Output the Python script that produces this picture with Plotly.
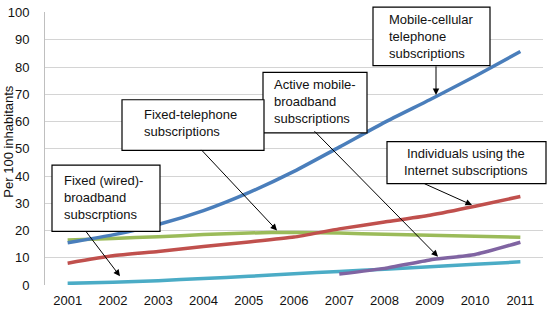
import plotly.graph_objects as go

years = [2001, 2002, 2003, 2004, 2005, 2006, 2007, 2008, 2009, 2010, 2011]
fixed_telephone = [16.5, 17.1, 17.7, 18.5, 19.1, 19.3, 19.1, 18.6, 18.3, 17.9, 17.5]
mobile_cellular = [15.5, 18.4, 22.2, 27.3, 33.9, 41.7, 50.6, 59.7, 68.0, 76.6, 85.7]
internet_users = [8.0, 10.7, 12.3, 14.1, 15.8, 17.6, 20.6, 23.1, 25.6, 28.9, 32.5]
fixed_broadband = [0.6, 1.0, 1.6, 2.4, 3.2, 4.1, 5.0, 5.8, 6.7, 7.6, 8.5]
mb_years = [2007, 2008, 2009, 2010, 2011]
mobile_broadband = [4.0, 6.1, 9.2, 11.2, 15.7]
y_ticks = [0, 10, 20, 30, 40, 50, 60, 70, 80, 90, 100]

W, H = 548, 313
L, R, T, B = 45, 543, 7, 287
FONT = "Liberation Sans, Arial, sans-serif"

def px(x):
    return (x - L) / (R - L)

def py(y):
    return (B - y) / (B - T)

fig = go.Figure()
series = [
    (years, fixed_telephone, "#9BBB59", "Fixed-telephone"),
    (years, mobile_cellular, "#4A7EBB", "Mobile-cellular"),
    (years, internet_users, "#C0504D", "Internet"),
    (years, fixed_broadband, "#4BACC6", "Fixed broadband"),
    (mb_years, mobile_broadband, "#8064A2", "Mobile broadband"),
]
for xs, ys, col, name in series:
    fig.add_trace(go.Scatter(x=xs, y=ys, mode="lines", name=name,
                             line=dict(color=col, width=3.5, shape="spline", smoothing=0.5)))

# boxes (pixel coords) and labels
boxes = [
    ((373, 2, 490, 62), 388, 32, "left", "Mobile-cellular<br>telephone<br>subscriptions"),
    ((263, 69, 367, 131), 273, 99, "left", "Active mobile-<br>broadband<br>subscriptions"),
    ((122, 97, 264, 149), 143, 121, "left", "Fixed-telephone<br>subscriptions"),
    ((387, 140, 546, 183), 466, 161, "center", "Individuals using the<br>Internet subscriptions"),
    ((52, 164, 160, 232), 63, 197, "left", "Fixed (wired)-<br>broadband<br>subscrptions"),
]
shapes = []
annotations = []
for (x0, y0, x1, y1), tx, ty, al, txt in boxes:
    shapes.append(dict(type="rect", xref="paper", yref="paper",
                       x0=px(x0), x1=px(x1), y0=py(y1), y1=py(y0),
                       line=dict(color="black", width=1.2), fillcolor="white", layer="above"))
    annotations.append(dict(xref="paper", yref="paper", x=px(tx), y=py(ty),
                            xanchor=al, yanchor="middle", align=al, text=txt,
                            showarrow=False, borderpad=0,
                            font=dict(family=FONT, size=13, color="#111")))

arrows = [
    ((436, 62), (436, 92)),
    ((313, 131), (438, 258)),
    ((200, 149), (277, 231)),
    ((423, 183), (472, 205)),
    ((85, 232), (120, 278)),
]
for (tx, ty), (hx, hy) in arrows:
    annotations.append(dict(xref="paper", yref="paper", x=px(hx), y=py(hy),
                            ax=tx - hx, ay=ty - hy, text="", showarrow=True,
                            arrowhead=2, arrowsize=1.3, arrowwidth=1, arrowcolor="black",
                            standoff=0, startstandoff=0))

annotations.append(dict(xref="paper", yref="paper", x=px(9), y=py(140),
                        text="Per 100 inhabitants", textangle=-90, showarrow=False,
                        xanchor="center", yanchor="middle",
                        font=dict(family=FONT, size=13, color="#111")))

fig.update_layout(
    width=W, height=H,
    margin=dict(l=L, r=W - R, t=T, b=H - B),
    paper_bgcolor="white", plot_bgcolor="white",
    showlegend=False,
    shapes=shapes, annotations=annotations,
    font=dict(family=FONT, size=13, color="#111"),
    xaxis=dict(range=[2000.5, 2011.5], tickvals=years, ticktext=[str(y) for y in years],
               showgrid=False, zeroline=False, showline=False, ticks="",
               ticklabelstandoff=6, fixedrange=True),
    yaxis=dict(range=[0, 100.2], tickvals=y_ticks, showgrid=True, gridcolor="#d4d4d4",
               gridwidth=1, zeroline=False, showline=True, linecolor="#bfbfbf",
               ticks="", ticklabelstandoff=12, fixedrange=True),
)
fig.write_html("out.html", config={"displayModeBar": False},
               post_script="document.body.style.margin='0';document.body.style.padding='0';")
